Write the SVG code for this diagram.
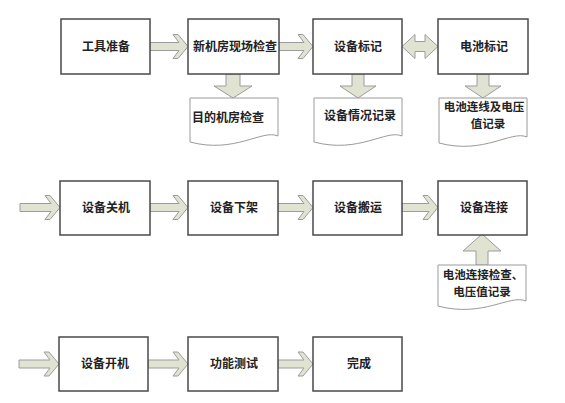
<svg xmlns="http://www.w3.org/2000/svg" width="565" height="403" viewBox="0 0 565 403">
<style>
.box{fill:#fff;stroke:#4a4a4a;stroke-width:1.5}
.doc{fill:#fff;stroke:#9a9a9a;stroke-width:1}
.arr{fill:#e0e3d1;stroke:#9c9c9c;stroke-width:1;stroke-linejoin:miter}
.t{font-family:"Noto Sans CJK SC","Noto Sans",sans-serif;font-size:12px;font-weight:700;fill:#222;text-anchor:middle}
.s{font-size:11.5px}
</style>
<rect width="565" height="403" fill="#fff"/>
<g id="connectors">
<path class="arr" d="M150,42.5 H179 L173,34.5 H178 L188,46.5 L178,58.5 H173 L179,50.5 H150 Z"/>
<path class="arr" d="M279,42.5 H304 L298,34.5 H303 L313,46.5 L303,58.5 H298 L304,50.5 H279 Z"/>
<path class="arr" d="M402,46.5 L415,34.5 V41.5 H425 V34.5 L438,46.5 L425,58.5 V51.5 H415 V58.5 Z"/>
<path class="arr" d="M226,74 H240 V86 H252 L233,98 L214,86 H226 Z"/>
<path class="arr" d="M352,74 H364 V86 H376 L358,98 L340,86 H352 Z"/>
<path class="arr" d="M477,74 H489 V86 H501 L483,98 L465,86 H477 Z"/>
<path class="arr" d="M20,203.5 H51 L45,195.5 H50 L60,207.5 L50,219.5 H45 L51,211.5 H20 Z"/>
<path class="arr" d="M150,203.5 H179 L173,195.5 H178 L188,207.5 L178,219.5 H173 L179,211.5 H150 Z"/>
<path class="arr" d="M278,203.5 H304 L298,195.5 H303 L313,207.5 L303,219.5 H298 L304,211.5 H278 Z"/>
<path class="arr" d="M402,203.5 H429 L423,195.5 H428 L438,207.5 L428,219.5 H423 L429,211.5 H402 Z"/>
<path class="arr" d="M476,265 V251 H463 L482,234 L501,251 H488 V265 Z"/>
<path class="arr" d="M19,360 H50 L44,352 H49 L59,364 L49,376 H44 L50,368 H19 Z"/>
<path class="arr" d="M148,360 H179 L173,352 H178 L188,364 L178,376 H173 L179,368 H148 Z"/>
<path class="arr" d="M278,360 H304 L298,352 H303 L313,364 L303,376 H298 L304,368 H278 Z"/>
</g>
<g id="n1"><rect class="box" x="61" y="19" width="89" height="55"/><text class="t" x="106" y="51">工具准备</text></g>
<g id="n2"><rect class="box" x="188" y="19" width="91" height="55"/><text class="t" x="235" y="51">新机房现场检查</text></g>
<g id="n3"><rect class="box" x="313" y="19" width="89" height="55"/><text class="t" x="358" y="51">设备标记</text></g>
<g id="n4"><rect class="box" x="438" y="19" width="90" height="55"/><text class="t" x="484" y="51">电池标记</text></g>
<g id="d1"><path class="doc" d="M190,98 H278 V136 C262,129 235,154 190,142 Z"/><text class="t" x="228" y="122">目的机房检查</text></g>
<g id="d2"><path class="doc" d="M314,98 H402 V136 C386,129 359,154 314,142 Z"/><text class="t" x="360" y="120">设备情况记录</text></g>
<g id="d3"><path class="doc" d="M439,98 H527 V137 C511,130 484,155 439,143 Z"/><text class="t s" x="484" y="111">电池连线及电压</text><text class="t s" x="488" y="128">值记录</text></g>
<g id="n5"><rect class="box" x="60" y="181" width="90" height="54"/><text class="t" x="106" y="212">设备关机</text></g>
<g id="n6"><rect class="box" x="188" y="181" width="90" height="54"/><text class="t" x="234" y="212">设备下架</text></g>
<g id="n7"><rect class="box" x="313" y="181" width="89" height="54"/><text class="t" x="358" y="212">设备搬运</text></g>
<g id="n8"><rect class="box" x="438" y="181" width="89" height="54"/><text class="t" x="484" y="212">设备连接</text></g>
<g id="d4"><path class="doc" d="M438,265 H526 V301 C510,294 483,318 438,306 Z"/><text class="t s" x="483" y="279">电池连接检查、</text><text class="t s" x="482" y="296">电压值记录</text></g>
<g id="n9"><rect class="box" x="59" y="337" width="89" height="54"/><text class="t" x="105" y="368">设备开机</text></g>
<g id="n10"><rect class="box" x="188" y="337" width="90" height="54"/><text class="t" x="234" y="368">功能测试</text></g>
<g id="n11"><rect class="box" x="313" y="337" width="89" height="54"/><text class="t" x="359" y="368">完成</text></g>
</svg>
